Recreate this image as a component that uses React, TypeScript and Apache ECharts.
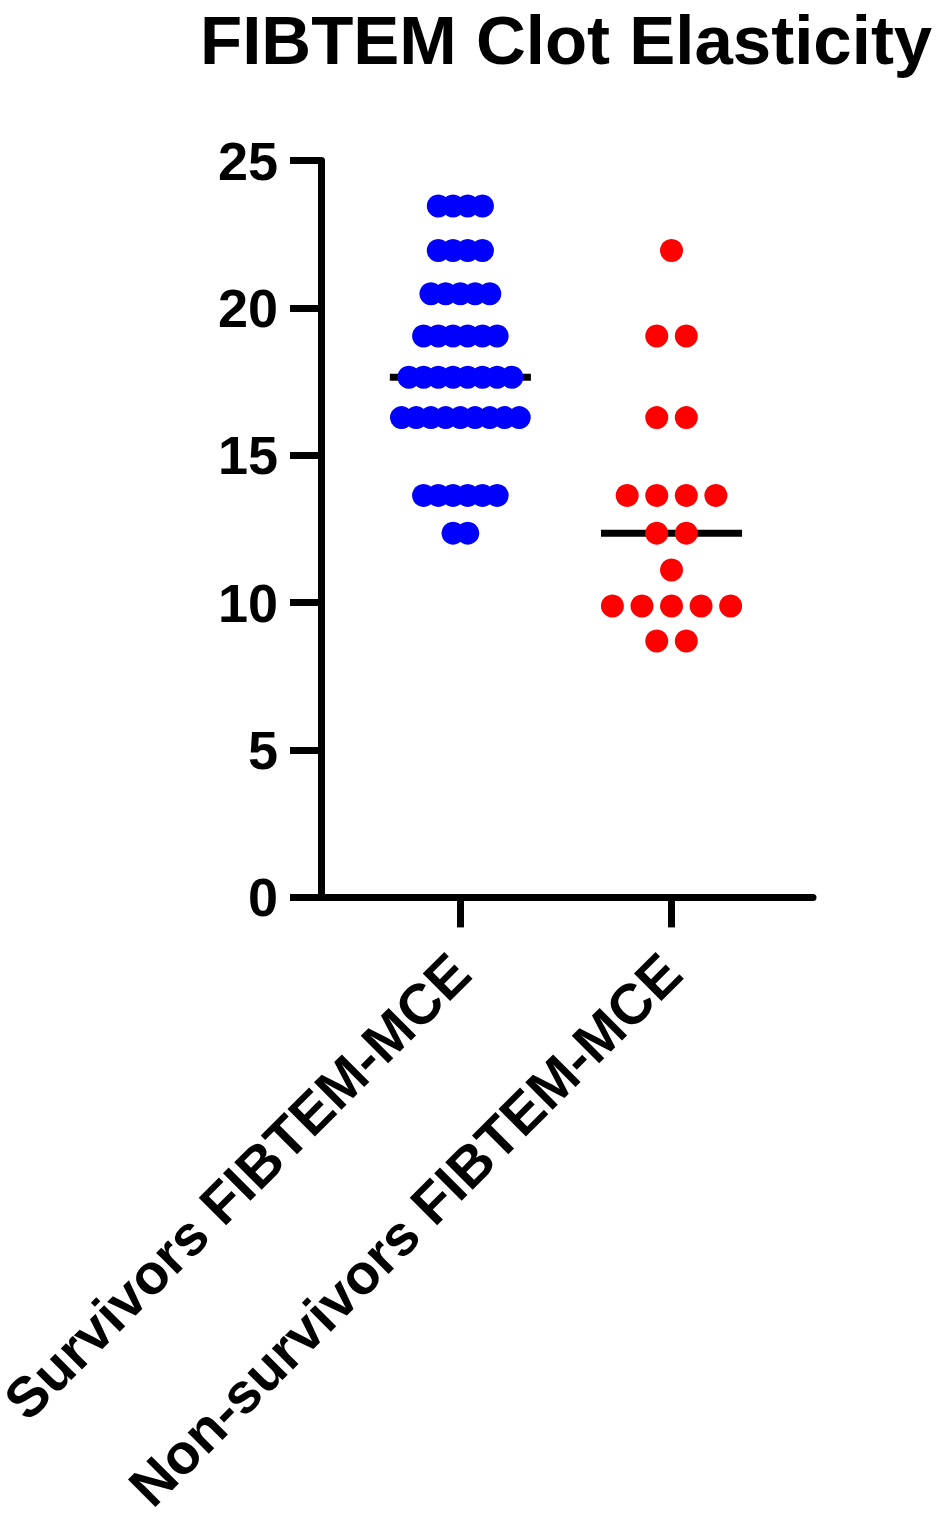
import React, { useEffect, useRef } from "react";
import * as echarts from "echarts";

const FONT = "'Liberation Sans', Arial, Helvetica, sans-serif";

const title = "FIBTEM Clot Elasticity";
const categories = ["Survivors FIBTEM-MCE", "Non-survivors FIBTEM-MCE"];

// FIBTEM-MCE values of each patient
const survivors = [
  23.46, 23.46, 23.46, 23.46,
  21.95, 21.95, 21.95, 21.95,
  20.48, 20.48, 20.48, 20.48, 20.48,
  19.05, 19.05, 19.05, 19.05, 19.05, 19.05,
  17.65, 17.65, 17.65, 17.65, 17.65, 17.65, 17.65, 17.65,
  16.28, 16.28, 16.28, 16.28, 16.28, 16.28, 16.28, 16.28, 16.28,
  13.64, 13.64, 13.64, 13.64, 13.64, 13.64,
  12.36, 12.36,
];
const nonSurvivors = [
  21.95,
  19.05, 19.05,
  16.28, 16.28,
  13.64, 13.64, 13.64, 13.64,
  12.36, 12.36,
  11.11,
  9.89, 9.89, 9.89, 9.89, 9.89,
  8.7, 8.7,
];

const yMin = 0;
const yMax = 25;
const yStep = 5;

function median(values: number[]): number {
  const s = [...values].sort((a, b) => a - b);
  const m = Math.floor(s.length / 2);
  return s.length % 2 ? s[m] : (s[m - 1] + s[m]) / 2;
}

// simple swarm layout: points with equal value are spread side by side
function swarm(values: number[], center: number, step: number): number[][] {
  const groups = new Map<number, number>();
  values.forEach((v) => groups.set(v, (groups.get(v) || 0) + 1));
  const out: number[][] = [];
  groups.forEach((n, v) => {
    for (let i = 0; i < n; i++) {
      out.push([center + (i - (n - 1) / 2) * step, v]);
    }
  });
  return out;
}

export default function App() {
  const ref = useRef<HTMLDivElement>(null);
  useEffect(() => {
    document.body.style.margin = "0";
    const chart = echarts.init(ref.current!, null, { renderer: "svg" });
    const medS = median(survivors);
    const medN = median(nonSurvivors);
    const half = 0.334;
    const axisColor = "#000";
    const lw = 7;
    chart.setOption({
      animation: false,
      backgroundColor: "#fff",
      title: {
        text: title,
        left: 200,
        top: 6,
        padding: 0,
        textAlign: "left",
        textStyle: { fontFamily: FONT, fontSize: 69, fontWeight: "bold", color: "#000" },
      },
      grid: {
        left: 321,
        right: 127,
        top: 160.6,
        bottom: 615.6,
        containLabel: false,
        outerBoundsMode: "none",
      },
      xAxis: {
        type: "value",
        min: 0.34,
        max: 2.67,
        splitLine: { show: false },
        axisLine: { show: true, lineStyle: { color: axisColor, width: lw } },
        axisTick: {
          show: true,
          customValues: [1, 2],
          length: 30,
          lineStyle: { color: axisColor, width: lw },
        },
        axisLabel: {
          show: true,
          customValues: [1, 2],
          formatter: (v: number) => categories[Math.round(v) - 1] || "",
          rotate: 45,
          margin: 66,
          fontSize: 56.5,
          fontWeight: "bold",
          fontFamily: FONT,
          color: "#000",
        },
      },
      yAxis: {
        type: "value",
        min: yMin,
        max: yMax,
        interval: yStep,
        splitLine: { show: false },
        axisLine: { show: true, lineStyle: { color: axisColor, width: lw } },
        axisTick: { show: true, length: 31, lineStyle: { color: axisColor, width: lw } },
        axisLabel: {
          margin: 43,
          fontSize: 54,
          fontWeight: "bold",
          fontFamily: FONT,
          color: "#000",
        },
      },
      series: [
        {
          type: "line",
          data: [
            [1 - half, medS],
            [1 + half, medS],
          ],
          symbol: "none",
          lineStyle: { color: "#000", width: lw },
          z: 1,
          silent: true,
        },
        {
          type: "line",
          data: [
            [2 - half, medN],
            [2 + half, medN],
          ],
          symbol: "none",
          lineStyle: { color: "#000", width: lw },
          z: 1,
          silent: true,
        },
        {
          type: "scatter",
          data: swarm(survivors, 1, 0.0697),
          symbolSize: 23,
          itemStyle: { color: "#0000FF", opacity: 1 },
          z: 2,
        },
        {
          type: "scatter",
          data: swarm(nonSurvivors, 2, 0.14),
          symbolSize: 23,
          itemStyle: { color: "#FF0000", opacity: 1 },
          z: 2,
        },
      ],
    });
    return () => chart.dispose();
  }, []);
  return <div ref={ref} style={{ width: 940, height: 1513 }} />;
}
